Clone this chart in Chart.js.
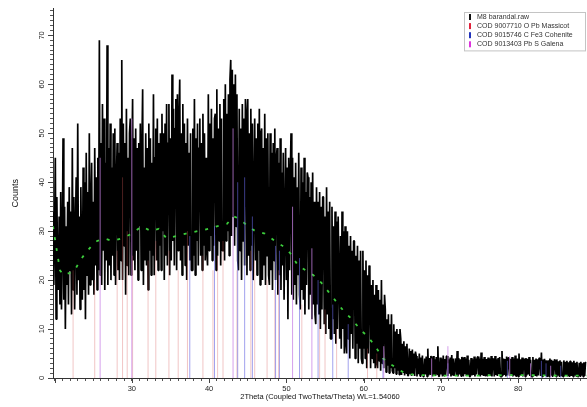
<!DOCTYPE html>
<html>
<head>
<meta charset="utf-8">
<script src="https://cdn.jsdelivr.net/npm/chart.js@4.4.1/dist/chart.umd.min.js"></script>
<style>
  html, body { margin: 0; padding: 0; background: #fff; }
</style>
</head>
<body>
<canvas id="xrd" width="587" height="407"></canvas>
<script>
// scan grid (2Theta)
const scanStart = 19.8;
const scanStep = 0.1;

// M8 barandal.raw counts, one row per degree (19.8, 20.8, ...)
const counts = [
  34, 19, 29, 45, 12, 37, 22, 18, 33, 15,
  38, 14, 27, 49, 16, 35, 10, 31, 19, 36,
  15, 39, 22, 34, 13, 47, 18, 37, 14, 30,
  41, 17, 52, 20, 33, 14, 39, 25, 16, 43,
  18, 40, 12, 46, 21, 38, 17, 50, 19, 35,
  44, 20, 36, 17, 47, 23, 41, 18, 45, 22,
  69, 21, 48, 19, 56, 26, 53, 18, 44, 24,
  68, 19, 47, 23, 52, 20, 43, 25, 50, 21,
  51, 19, 40, 48, 22, 46, 20, 53, 24, 65,
  20, 52, 27, 48, 17, 55, 23, 45, 21, 50,
  53, 21, 44, 57, 24, 49, 22, 51, 26, 47,
  20, 48, 31, 52, 22, 46, 59, 19, 43, 24,
  50, 23, 47, 18, 52, 26, 49, 21, 44, 25,
  58, 21, 45, 51, 24, 53, 22, 48, 27, 50,
  22, 54, 30, 50, 20, 52, 25, 56, 23, 48,
  56, 21, 49, 24, 62, 28, 55, 23, 51, 57,
  22, 58, 26, 53, 61, 24, 50, 21, 56, 27,
  52, 23, 48, 20, 53, 27, 46, 24, 50, 22,
  22, 51, 25, 57, 21, 49, 28, 52, 23, 47,
  53, 25, 48, 22, 54, 27, 50, 24, 45, 26,
  23, 58, 26, 52, 29, 55, 24, 49, 27, 53,
  54, 22, 59, 25, 51, 28, 56, 23, 53, 26,
  26, 57, 24, 60, 28, 54, 30, 58, 25, 61,
  65, 29, 63, 33, 60, 27, 62, 31, 58, 24,
  22, 55, 26, 51, 20, 56, 28, 53, 23, 57,
  54, 21, 57, 25, 50, 22, 55, 27, 52, 20,
  20, 53, 24, 49, 21, 52, 26, 55, 19, 50,
  51, 20, 47, 23, 54, 19, 49, 25, 50, 21,
  19, 50, 22, 46, 18, 48, 24, 51, 20, 45,
  47, 17, 44, 21, 49, 18, 42, 23, 46, 16,
  16, 47, 20, 43, 12, 45, 22, 41, 50, 17,
  45, 16, 41, 19, 44, 15, 39, 21, 46, 17,
  14, 43, 18, 40, 16, 45, 13, 38, 19, 42,
  41, 14, 37, 17, 40, 12, 42, 15, 36, 13,
  11, 39, 15, 36, 13, 38, 10, 35, 14, 37,
  37, 11, 33, 9, 39, 13, 34, 10, 36, 8,
  8, 35, 12, 31, 9, 34, 7, 32, 10, 33,
  33, 8, 29, 6, 34, 10, 30, 5, 31, 7,
  5, 30, 8, 27, 4, 29, 9, 26, 6, 28,
  28, 4, 25, 7, 27, 3, 24, 6, 26, 4,
  3, 26, 6, 22, 4, 24, 2, 21, 5, 23,
  22, 2, 19, 4, 20, 3, 17, 2, 19, 3,
  2, 18, 3.5, 16, 1.5, 20, 3, 15, 2, 17,
  14, 1.2, 12, 2.5, 13, 1, 11, 2, 13, 1.5,
  1, 11, 2, 9.5, 0.8, 10, 1.5, 9, 0.7, 10,
  8, 0.6, 7, 1.2, 7.5, 0.5, 6.5, 1, 7, 0.5,
  0.5, 6, 0.9, 5.5, 0.4, 5.8, 1, 5, 0.4, 5.4,
  4.5, 0.3, 4, 0.8, 5, 0.4, 4.2, 0.6, 4.6, 0.3,
  0.4, 4, 0.7, 4.4, 0.3, 6, 0.5, 4.1, 0.8, 4.5,
  4, 0.3, 4.5, 0.6, 3.8, 0.4, 4.3, 0.8, 6.5, 0.4,
  0.3, 4.2, 0.7, 4, 0.3, 4.6, 0.5, 3.9, 0.4, 4.4,
  4.5, 0.4, 3.8, 0.9, 4.2, 0.3, 4.7, 0.5, 4, 0.4,
  0.4, 4, 0.6, 5.5, 0.3, 4.1, 0.7, 3.8, 0.4, 4.3,
  3.9, 0.3, 4.3, 0.8, 4, 0.4, 4.6, 0.5, 3.7, 0.3,
  0.3, 4.1, 0.5, 3.8, 0.6, 4.4, 0.3, 4, 0.7, 4.2,
  4.4, 0.4, 4, 0.3, 5.2, 0.6, 3.9, 0.4, 4.3, 0.5,
  0.5, 3.9, 0.3, 4.2, 0.7, 4, 0.4, 4.5, 0.3, 3.8,
  4, 0.3, 4.5, 0.6, 3.8, 0.4, 4.1, 0.8, 4.3, 0.3,
  0.3, 5.5, 0.4, 4, 0.6, 3.9, 0.3, 4.4, 0.5, 4.1,
  4.2, 0.4, 3.9, 0.7, 4.3, 0.3, 4, 0.5, 4.6, 0.4,
  0.4, 4, 0.3, 5, 0.6, 3.8, 0.4, 4.2, 0.3, 3.9,
  3.8, 0.3, 4.1, 0.5, 3.9, 0.7, 4.3, 0.4, 3.7, 0.3,
  0.3, 4.3, 0.4, 3.7, 0.6, 4, 0.3, 3.8, 0.5, 4.1,
  4, 0.4, 5.2, 0.3, 3.8, 0.6, 3.9, 0.4, 3.6, 0.3,
  0.4, 3.6, 0.3, 4, 0.5, 3.7, 0.4, 3.5, 0.6, 3.8,
  3.5, 0.3, 3.8, 0.5, 3.4, 0.4, 3.6, 0.3, 3.3, 0.5,
  0.3, 3.6, 0.4, 3.3, 0.6, 3.5, 0.3, 3.2, 0.4, 3.4,
  3.4, 0.4, 3.2, 0.3, 3.5, 0.5, 3.1, 0.4, 3.3, 0.3,
  0.3, 3.1, 0.4, 3.3, 0.5, 3, 0.3, 3.2, 0.4, 3.1,
  3.2
];

// green background curve
const bgAngles = [19.8, 20.0, 20.3, 20.7, 21.2, 22.0, 22.6, 23.3, 24.0, 24.8, 25.5, 26.5, 27.5, 28.7,
  30.0, 31.3, 32.5, 33.5, 34.5, 35.8, 37.0, 38.5, 40.0, 41.0, 42.3, 43.2, 44.0, 45.0, 46.0, 47.2,
  48.5, 49.5, 50.5, 51.5, 52.5, 53.5, 54.5, 55.5, 56.5, 57.5, 58.5, 59.5, 60.5, 61.5, 62.5, 63.5,
  64.5, 65.5, 67, 70, 75, 80, 85, 88.9];
const bgCounts = [31, 29, 26, 22, 21, 21.5, 22, 24, 25.5, 27, 28, 28.5, 28, 28.5,
  29.5, 31, 30, 30.5, 28.5, 29, 29.5, 30, 30.5, 31, 31.5, 33, 32.5, 31, 30, 29.5,
  28, 27, 25.5, 23, 22, 21, 19.5, 17.5, 15.5, 13.5, 12, 10, 8.5, 6.5, 4, 2.8,
  1.8, 0.8, 0.6, 0.5, 0.5, 0.6, 0.5, 0.5];

// reference patterns (stick positions and heights)
const massicotPos = [22.4, 25.2, 28.1, 28.8, 29.4, 30.1, 32.1, 33.1, 34.8, 36.0, 37.2, 39.2, 40.5,
  41.1, 41.8, 43.6, 45.4, 45.9, 47.5, 48.5, 49.0, 52.0, 54.3, 55.0, 56.5, 60.5, 61.7];
const massicotInt = [22, 20, 26, 41, 30, 25, 24, 28, 26, 22, 30, 25, 22,
  25, 28, 22, 26, 24, 20, 18, 22, 15, 12, 14, 10, 6, 5];
const cohenitePos = [37.5, 40.7, 43.7, 44.6, 45.6, 48.6, 49.1, 51.7, 54.1, 56.0, 58.0, 62.5, 70.9, 78.6, 83.0, 83.6, 85.5];
const coheniteInt = [29, 31, 40, 41, 33, 27, 26, 24.5, 20, 15, 11, 4, 3, 3.5, 3.5, 3, 2.5];
const galenaPos = [25.9, 30.0, 43.1, 50.8, 53.3, 62.6, 68.8, 70.9, 78.9, 81.6, 84.2];
const galenaInt = [45, 53, 51, 35, 26.5, 6.5, 4, 6.5, 4.5, 3, 2.5];

const fontFam = '"Liberation Sans", Arial, sans-serif';

function sticks(pos, h) {
  const pts = [];
  pos.forEach((p, i) => {
    pts.push({x: p, y: 0}, {x: p, y: h[i]}, {x: p, y: null});
  });
  return pts;
}

const boxLegend = {
  id: 'boxLegend',
  afterDraw(chart) {
    const ctx = chart.ctx;
    const items = chart.data.datasets.filter(d => d.keyColor);
    const left = 464, top = 12, row = 9.1;
    ctx.save();
    ctx.fillStyle = '#fff';
    ctx.strokeStyle = '#c4c4c4';
    ctx.lineWidth = 1;
    ctx.fillRect(left, top, 121, items.length * row + 2);
    ctx.strokeRect(left + 0.5, top + 0.5, 121, items.length * row + 2);
    ctx.font = '7px ' + fontFam;
    ctx.textBaseline = 'middle';
    items.forEach((d, i) => {
      const y = top + 5 + row * i;
      ctx.fillStyle = d.keyColor;
      ctx.fillRect(left + 5, y - 3, 2, 6);
      ctx.fillStyle = '#333';
      ctx.fillText(d.label, left + 13, y);
    });
    ctx.restore();
  }
};

const majorTicks = {
  id: 'majorTicks',
  afterDraw(chart) {
    const {ctx, scales: {x, y}} = chart;
    ctx.save();
    ctx.strokeStyle = '#444';
    ctx.lineWidth = 1;
    ctx.beginPath();
    for (let v = 20; v <= x.max; v += 10) {
      const px = Math.round(x.getPixelForValue(v)) + 0.5;
      ctx.moveTo(px, x.top);
      ctx.lineTo(px, x.top + 5);
    }
    for (let v = 0; v <= y.max; v += 10) {
      const py = Math.round(y.getPixelForValue(v)) + 0.5;
      ctx.moveTo(y.right, py);
      ctx.lineTo(y.right - 5, py);
    }
    ctx.stroke();
    ctx.restore();
  }
};

function unitTicks(scale) {
  const t = [];
  for (let v = Math.ceil(scale.min); v <= Math.floor(scale.max); v++) t.push({value: v});
  scale.ticks = t;
}

new Chart(document.getElementById('xrd'), {
  type: 'line',
  data: {
    datasets: [
      {
        label: 'M8 barandal.raw',
        keyColor: '#111',
        data: counts.map((c, i) => ({x: scanStart + i * scanStep, y: c})),
        borderColor: '#000',
        borderWidth: 1.7,
        borderJoinStyle: 'bevel',
        pointRadius: 0,
        tension: 0,
        order: 5
      },
      {
        label: 'Background',
        data: bgAngles.map((a, i) => ({x: a, y: bgCounts[i]})),
        borderColor: 'rgb(60,205,60)',
        borderWidth: 1.8,
        borderDash: [3, 8],
        pointRadius: 0,
        order: 4
      },
      {
        label: 'COD 9007710 O Pb Massicot',
        keyColor: '#e0203a',
        data: sticks(massicotPos, massicotInt),
        borderColor: 'rgba(214,90,90,0.35)',
        borderWidth: 1,
        pointRadius: 0,
        order: 3
      },
      {
        label: 'COD 9015746 C Fe3 Cohenite',
        keyColor: '#2233bb',
        data: sticks(cohenitePos, coheniteInt),
        borderColor: 'rgba(100,100,225,0.6)',
        borderWidth: 1,
        pointRadius: 0,
        order: 2
      },
      {
        label: 'COD 9013403 Pb S Galena',
        keyColor: '#dd33dd',
        data: sticks(galenaPos, galenaInt),
        borderColor: 'rgba(200,130,230,0.75)',
        borderWidth: 1,
        pointRadius: 0,
        order: 1
      }
    ]
  },
  options: {
    responsive: false,
    animation: false,
    layout: { padding: { top: 5, right: 0, left: 0, bottom: 0 } },
    plugins: {
      legend: { display: false },
      tooltip: { enabled: false }
    },
    scales: {
      x: {
        type: 'linear',
        min: 19.8,
        max: 88.9,
        afterBuildTicks: unitTicks,
        afterFit: s => { s.height = 29; },
        border: { display: true, color: '#333' },
        grid: { drawOnChartArea: false, tickLength: 3, color: '#555' },
        ticks: {
          autoSkip: false,
          maxRotation: 0,
          padding: 3,
          color: '#222',
          font: { family: fontFam, size: 7.5 },
          callback: v => (v % 10 === 0 && v >= 30) ? String(v) : ''
        },
        title: {
          display: true,
          text: '2Theta (Coupled TwoTheta/Theta) WL=1.54060',
          color: '#111',
          font: { family: fontFam, size: 7.5 },
          padding: { top: 0, bottom: 6 }
        }
      },
      y: {
        min: 0,
        max: 75.5,
        afterBuildTicks: unitTicks,
        afterFit: s => { s.width = 53; },
        border: { display: true, color: '#333' },
        grid: { drawOnChartArea: false, tickLength: 3, color: '#555' },
        ticks: {
          autoSkip: false,
          minRotation: 90,
          maxRotation: 90,
          crossAlign: 'center',
          padding: 4,
          color: '#222',
          font: { family: fontFam, size: 7.5 },
          callback: v => (v % 10 === 0) ? String(v) : ''
        },
        title: {
          display: true,
          text: 'Counts',
          color: '#111',
          font: { family: fontFam, size: 9 },
          padding: { top: 10, bottom: 0 }
        }
      }
    }
  },
  plugins: [boxLegend, majorTicks]
});
</script>
</body>
</html>
